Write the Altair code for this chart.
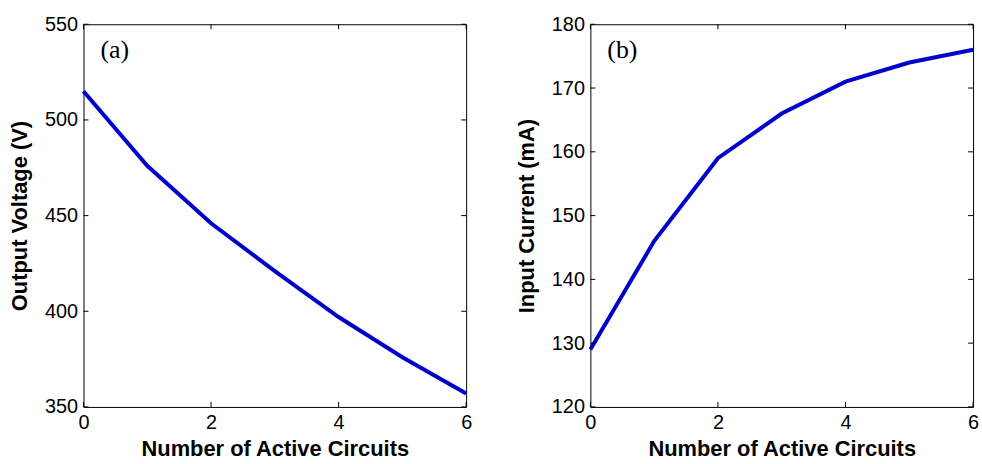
import altair as alt
import pandas as pd

circuits = [0, 1, 2, 3, 4, 5, 6]
voltage = [515, 476, 446, 421, 397, 376, 357]
current = [129, 146, 159, 166, 171, 174, 176]

x_ticks = [0, 2, 4, 6]
v_ticks = [350, 400, 450, 500, 550]
i_ticks = [120, 130, 140, 150, 160, 170, 180]

W, H = 385, 385
LINE_COLOR = "#0000CC"
TICK_LEN = 5


def panel(values, ydom, yticks, ytitle, label):
    df = pd.DataFrame({"x": circuits, "y": values})
    xenc = alt.X("x:Q", scale=alt.Scale(domain=[0, 6], nice=False),
                 axis=alt.Axis(values=x_ticks, title="Number of Active Circuits",
                               ticks=False, domain=False, grid=False, labelFlush=False,
                               labelPadding=6, titlePadding=6))
    yenc = alt.Y("y:Q", scale=alt.Scale(domain=ydom, nice=False),
                 axis=alt.Axis(values=yticks, title=ytitle,
                               ticks=False, domain=False, grid=False,
                               labelPadding=6, titlePadding=13))
    line = alt.Chart(df).mark_line(color=LINE_COLOR, strokeWidth=4).encode(x=xenc, y=yenc)

    xt = pd.DataFrame({"x": x_ticks})
    yt = pd.DataFrame({"y": yticks})
    rule = dict(color="black", strokeWidth=1)
    xb = alt.Chart(xt).mark_rule(**rule).encode(x=xenc, y=alt.value(H), y2=alt.value(H - TICK_LEN))
    xtp = alt.Chart(xt).mark_rule(**rule).encode(x=xenc, y=alt.value(0), y2=alt.value(TICK_LEN))
    yl = alt.Chart(yt).mark_rule(**rule).encode(y=yenc, x=alt.value(0), x2=alt.value(TICK_LEN))
    yr = alt.Chart(yt).mark_rule(**rule).encode(y=yenc, x=alt.value(W), x2=alt.value(W - TICK_LEN))

    txt = alt.Chart(pd.DataFrame({"t": [label]})).mark_text(
        font="Liberation Serif", fontSize=26, align="left", baseline="middle", color="black"
    ).encode(text="t:N", x=alt.value(17), y=alt.value(26))

    return alt.layer(line, xb, xtp, yl, yr, txt).properties(width=W, height=H)


left = panel(voltage, [350, 550], v_ticks, "Output Voltage (V)", "(a)")
right = panel(current, [120, 180], i_ticks, "Input Current (mA)", "(b)")

chart = alt.hconcat(left, right, spacing=40).properties(
    padding={"left": 8, "top": 12, "right": 0, "bottom": 0},
    background="white",
).configure_view(stroke="black", strokeWidth=1).configure_axis(
    labelFont="Liberation Sans", labelFontSize=20, labelColor="black",
    titleFont="Liberation Sans", titleFontSize=22, titleFontWeight="bold", titleColor="black"
)

chart.save("out.html", embed_options={"renderer": "svg", "actions": False})
